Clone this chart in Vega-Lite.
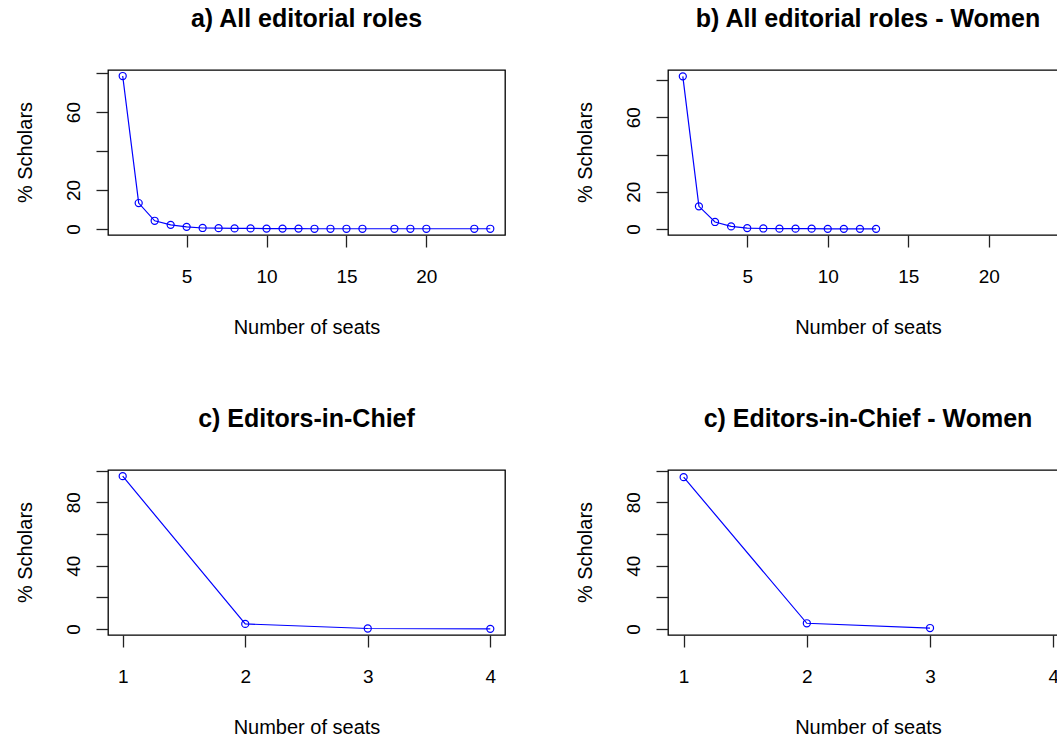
{
  "$schema": "https://vega.github.io/schema/vega-lite/v6.json",
  "padding": {"left": 14, "top": 6, "right": 0, "bottom": 0},
  "background": "white",
  "bounds": "flush",
  "columns": 2,
  "spacing": {"row": 235, "column": 163},
  "config": {
    "font": "Liberation Sans",
    "view": {"stroke": "#000000", "strokeWidth": 1.3},
    "title": {"font": "Liberation Sans", "fontSize": 25, "fontWeight": "bold", "color": "#000000", "baseline": "alphabetic", "offset": 38, "anchor": "middle", "frame": "group"},
    "axis": {"domain": false, "grid": false, "tickSize": 12, "tickColor": "#222222", "tickWidth": 1.3, "labelFont": "Liberation Sans", "labelFontSize": 19, "labelColor": "#000000", "labelFlush": false, "labelOverlap": false, "titleFont": "Liberation Sans", "titleFontSize": 20, "titleFontWeight": "normal", "titleColor": "#000000"},
    "axisX": {"labelBaseline": "alphabetic", "labelPadding": 35, "titleBaseline": "alphabetic", "titleY": 98},
    "axisY": {"labelAngle": -90, "labelAlign": "center", "labelBaseline": "alphabetic", "labelPadding": 17, "titleAngle": -90, "titleBaseline": "alphabetic", "titleAlign": "center", "titleX": -77, "titleY": 82}
  },
  "datasets": {
    "a": [
      {"seats": 1, "pct": 78.5}, {"seats": 2, "pct": 13.3}, {"seats": 3, "pct": 4.2}, {"seats": 4, "pct": 2.1},
      {"seats": 5, "pct": 1.1}, {"seats": 6, "pct": 0.5}, {"seats": 7, "pct": 0.4}, {"seats": 8, "pct": 0.3},
      {"seats": 9, "pct": 0.3}, {"seats": 10, "pct": 0.2}, {"seats": 11, "pct": 0.2}, {"seats": 12, "pct": 0.2},
      {"seats": 13, "pct": 0.1}, {"seats": 14, "pct": 0.1}, {"seats": 15, "pct": 0.1}, {"seats": 16, "pct": 0.1},
      {"seats": 18, "pct": 0.1}, {"seats": 19, "pct": 0.1}, {"seats": 20, "pct": 0.1}, {"seats": 23, "pct": 0.1},
      {"seats": 24, "pct": 0.1}
    ],
    "b": [
      {"seats": 1, "pct": 82.0}, {"seats": 2, "pct": 12.2}, {"seats": 3, "pct": 3.8}, {"seats": 4, "pct": 1.4},
      {"seats": 5, "pct": 0.5}, {"seats": 6, "pct": 0.3}, {"seats": 7, "pct": 0.2}, {"seats": 8, "pct": 0.2},
      {"seats": 9, "pct": 0.2}, {"seats": 10, "pct": 0.1}, {"seats": 11, "pct": 0.1}, {"seats": 12, "pct": 0.1},
      {"seats": 13, "pct": 0.1}
    ],
    "c": [
      {"seats": 1, "pct": 96.5}, {"seats": 2, "pct": 3.2}, {"seats": 3, "pct": 0.3}, {"seats": 4, "pct": 0.1}
    ],
    "d": [
      {"seats": 1, "pct": 95.9}, {"seats": 2, "pct": 3.6}, {"seats": 3, "pct": 0.6}
    ]
  },
  "concat": [
    {
      "title": "a) All editorial roles",
      "width": 397, "height": 165,
      "data": {"name": "a"},
      "mark": {"type": "line", "color": "#0000FF", "strokeWidth": 1.2, "point": {"filled": false, "shape": "circle", "size": 50, "color": "#0000FF", "strokeWidth": 1.2}},
      "encoding": {
        "x": {"field": "seats", "type": "quantitative", "scale": {"domain": [0.08, 24.92], "nice": false, "zero": false}, "axis": {"values": [5, 10, 15, 20], "title": "Number of seats"}},
        "y": {"field": "pct", "type": "quantitative", "scale": {"domain": [-3.1, 81.6], "nice": false, "zero": false}, "axis": {"values": [0, 20, 40, 60, 80], "labelExpr": "datum.value == 40 || datum.value == 80 ? '' : datum.label", "title": "% Scholars"}}
      }
    },
    {
      "title": "b) All editorial roles - Women",
      "width": 400, "height": 165,
      "data": {"name": "b"},
      "mark": {"type": "line", "color": "#0000FF", "strokeWidth": 1.2, "point": {"filled": false, "shape": "circle", "size": 50, "color": "#0000FF", "strokeWidth": 1.2}},
      "encoding": {
        "x": {"field": "seats", "type": "quantitative", "scale": {"domain": [0.08, 24.92], "nice": false, "zero": false}, "axis": {"values": [5, 10, 15, 20], "title": "Number of seats"}},
        "y": {"field": "pct", "type": "quantitative", "scale": {"domain": [-3.2, 85.4], "nice": false, "zero": false}, "axis": {"values": [0, 20, 40, 60, 80], "labelExpr": "datum.value == 40 || datum.value == 80 ? '' : datum.label", "title": "% Scholars"}}
      }
    },
    {
      "title": "c) Editors-in-Chief",
      "width": 397, "height": 165,
      "data": {"name": "c"},
      "mark": {"type": "line", "color": "#0000FF", "strokeWidth": 1.2, "point": {"filled": false, "shape": "circle", "size": 50, "color": "#0000FF", "strokeWidth": 1.2}},
      "encoding": {
        "x": {"field": "seats", "type": "quantitative", "scale": {"domain": [0.88, 4.12], "nice": false, "zero": false}, "axis": {"values": [1, 2, 3, 4], "title": "Number of seats"}},
        "y": {"field": "pct", "type": "quantitative", "scale": {"domain": [-3.8, 100.4], "nice": false, "zero": false}, "axis": {"values": [0, 20, 40, 60, 80, 100], "labelExpr": "datum.value == 0 || datum.value == 40 || datum.value == 80 ? datum.label : ''", "title": "% Scholars"}}
      }
    },
    {
      "title": "c) Editors-in-Chief - Women",
      "width": 400, "height": 165,
      "data": {"name": "d"},
      "mark": {"type": "line", "color": "#0000FF", "strokeWidth": 1.2, "point": {"filled": false, "shape": "circle", "size": 50, "color": "#0000FF", "strokeWidth": 1.2}},
      "encoding": {
        "x": {"field": "seats", "type": "quantitative", "scale": {"domain": [0.873, 4.12], "nice": false, "zero": false}, "axis": {"values": [1, 2, 3, 4], "title": "Number of seats"}},
        "y": {"field": "pct", "type": "quantitative", "scale": {"domain": [-3.8, 100.4], "nice": false, "zero": false}, "axis": {"values": [0, 20, 40, 60, 80, 100], "labelExpr": "datum.value == 0 || datum.value == 40 || datum.value == 80 ? datum.label : ''", "title": "% Scholars"}}
      }
    }
  ]
}
